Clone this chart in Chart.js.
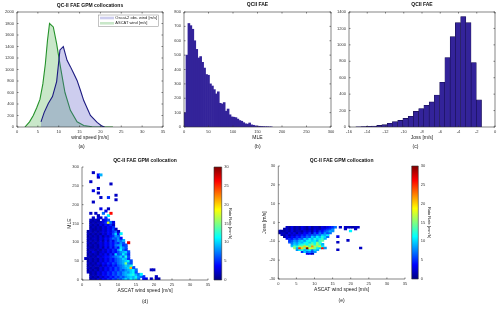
<!DOCTYPE html>
<html><head><meta charset="utf-8">
<script src="https://cdn.jsdelivr.net/npm/chart.js@4/dist/chart.umd.min.js"></script>
<style>
html,body{margin:0;padding:0;background:#fff;}
#wrap{position:relative;width:500px;height:309px;overflow:hidden;background:#fff;}
canvas{position:absolute;}
</style></head><body><div id="wrap"></div>
<script>
// ---------------- data ----------------
// (a) wind speed histograms (counts per bin, drawn as area lines)
const windAscatX = [1.9, 3, 3.9, 4.7, 5.5, 6.2, 6.8, 7.3, 7.8, 8.7, 9.5, 10.4, 11.5, 12.8, 14.4, 16, 18, 20, 23];
const windAscatCount = [0, 90, 200, 330, 480, 750, 1100, 1500, 1800, 1740, 1450, 1050, 600, 290, 90, 25, 5, 0, 0];
const windOscatX = [5.75, 6.5, 7.5, 8.5, 9.5, 10.3, 11.1, 12, 12.8, 13.6, 14.4, 15.2, 16, 16.8, 17.6, 18.4, 19.2, 20.4, 21];
const windOscatCount = [90, 250, 410, 530, 790, 1340, 1400, 1160, 1050, 930, 810, 640, 460, 330, 200, 140, 80, 15, 0];

// (b) MLE histogram
const mleBinCenters = [2,6,10,14,18,22,26,30,34,38,42,46,50,54,58,62,66,70,74,78,82,86,90,94,98,102,106,110,114,118,122,126,130,134,138,142,146,150,154,158,162,166,170,174,178];
const mleCounts = [100,500,720,705,680,600,540,480,490,450,410,365,360,300,285,260,230,245,165,160,170,110,125,85,70,68,65,55,45,40,30,22,20,28,15,12,8,6,5,4,3,2,2,1,1];

// (c) Joss histogram
const jossBinCenters = [-14.98,-14.41,-13.83,-13.26,-12.68,-12.11,-11.53,-10.96,-10.38,-9.81,-9.23,-8.66,-8.08,-7.51,-6.93,-6.36,-5.78,-5.21,-4.63,-4.06,-3.48,-2.91,-2.33,-1.76];
const jossCounts = [2,4,8,12,20,28,45,65,80,105,130,190,225,265,305,390,545,845,1100,1270,1345,1270,785,330];

// (d),(e) binned rain rate [mm/h]; one character per wind-speed bin, base-36 digit = rain rate, '.' = no data
const heatWindStep = 0.7;
const mleHeatTop = 288, mleHeatStep = 6;   // rows listed from top (282-288) down to (0-6)
const mleHeatRows = [
"....2",
"......49",
"......2",
"",
"...2",
"...........2",
"",
"......2",
"....3",
"......2",
".............2",
".......2..5",
".............2",
"....2",
"",
"",
".......3..2",
".........3",
"...2.2..7..q",
"......2...b",
"....2.32.5",
"...2121.346",
"...1212235i73",
"...2121324352",
"...1212132435",
"...21121324362",
"..1212123243572",
"..21212132436a4b",
"..1212131324587",
"..21221324357684",
"..121213142536879",
"..212123243546586.r",
"..1212132435478956",
"..2112131425364a86",
"..1221213243548b75",
"..213212324354689a6",
"..12121324253a67b85",
"..2121323445678a7c6",
".212121324354678a95",
"..121213243546789ab6",
"..212132435465789f86",
"..121221324354678a9c",
"..2121132435465789al6",
"..12121324354657689ab7.....22",
"..21213243546576898ab6",
"...121324354657689abc97b",
"...2121324354657689a9b875....2",
"...12132435465768a8b9c7.43.2.21"
];
const jossHeatTop = -2, jossHeatStep = 1;  // rows listed from top (-3..-2) down
const jossHeatRows = [
"...21312132131221323457.2.222122",
"..12131213212132234568....2...2",
"2112131221323142546798......b",
"122132313243526475867",
".2131324354657687a9b",
"..13243546576a8b9ca7...3",
"...3546576a8b9cabd9",
"....56879a8bcab9de.........2",
"....6798a9bcadbfc......2",
".....8a9bcdbefcgd9",
".....aecgfkhdmgfib",
"......g9pkeuihfbaq8.............2",
".......8bc9ab7a9.......2",
".........5a7868",
"...........342"
];
const rainMax = 30;

// ---------------- helpers ----------------
Chart.defaults.font.family = '"Liberation Sans", Arial, sans-serif';
Chart.defaults.color = '#333';
const wrap = document.getElementById('wrap');
const FONT_TICK = 4, FONT_LABEL = 5, FONT_TITLE = 5, LH = 1.2;

function jet(t){
  t = Math.max(0, Math.min(1, t));
  const f = v => Math.round(255 * Math.max(0, Math.min(1, v)));
  return `rgb(${f(1.5-Math.abs(4*t-3))},${f(1.5-Math.abs(4*t-2))},${f(1.5-Math.abs(4*t-1))})`;
}
function addCanvas(cv){
  const c = document.createElement('canvas');
  c.width = cv.w; c.height = cv.h;
  c.style.left = cv.x + 'px'; c.style.top = cv.y + 'px';
  c.style.width = cv.w + 'px'; c.style.height = cv.h + 'px';
  wrap.appendChild(c); return c;
}
const axisBox = {
  id: 'axisBox',
  afterDatasetsDraw(chart, args, o){
    const {ctx, chartArea: a} = chart; const L = 1.5;
    ctx.save(); ctx.strokeStyle = '#333'; ctx.lineWidth = 0.6; ctx.beginPath();
    if (o.full) ctx.rect(a.left, a.top, a.right - a.left, a.bottom - a.top);
    else { ctx.moveTo(a.left, a.top); ctx.lineTo(a.left, a.bottom); ctx.lineTo(a.right, a.bottom); }
    if (o.ticks) {
      const xs = chart.scales.x, ys = chart.scales.y;
      xs.ticks.forEach((t, i) => { const p = xs.getPixelForTick(i);
        ctx.moveTo(p, a.bottom); ctx.lineTo(p, a.bottom - L);
        if (o.full) { ctx.moveTo(p, a.top); ctx.lineTo(p, a.top + L); } });
      ys.ticks.forEach((t, i) => { const p = ys.getPixelForTick(i);
        ctx.moveTo(a.left, p); ctx.lineTo(a.left + L, p);
        if (o.full) { ctx.moveTo(a.right, p); ctx.lineTo(a.right - L, p); } });
    }
    ctx.stroke(); ctx.restore();
  }
};
const legendA = {
  id: 'legendA',
  afterDatasetsDraw(chart){
    const {ctx, chartArea: a} = chart;
    const x0 = a.right - 64.7, y0 = a.top + 3, w = 60, h = 11.7;
    ctx.save();
    ctx.fillStyle = '#fff'; ctx.fillRect(x0, y0, w, h);
    ctx.strokeStyle = '#888'; ctx.lineWidth = 0.5; ctx.strokeRect(x0, y0, w, h);
    chart.data.datasets.forEach((ds, i) => {
      const py = y0 + 1.7 + i * 5.3;
      ctx.fillStyle = ds.backgroundColor; ctx.fillRect(x0 + 1.7, py, 14, 2.6);
      ctx.fillStyle = '#222'; ctx.font = '4px "Liberation Sans", Arial, sans-serif';
      ctx.textBaseline = 'middle'; ctx.textAlign = 'left';
      ctx.fillText(ds.label, x0 + 17, py + 1.3);
    });
    ctx.restore();
  }
};
const numFmt = v => String(v);
function xAxis(min, max, step, title, H){
  return { type: 'linear', min, max, offset: false,
    grid: {display: false, drawTicks: false}, border: {display: false},
    ticks: {stepSize: step, autoSkip: false, maxRotation: 0, minRotation: 0, padding: 2, font: {size: FONT_TICK}, color: '#333', callback: numFmt},
    title: title ? {display: true, text: title, font: {size: FONT_LABEL}, padding: {top: 0, bottom: 1.1}, color: '#222'} : {display: false},
    afterFit: s => { s.height = H; } };
}
function yAxis(min, max, step, W, title, tpad){
  return { type: 'linear', position: 'left', min, max,
    grid: {display: false, drawTicks: false}, border: {display: false},
    ticks: {stepSize: step, autoSkip: false, padding: 3, font: {size: FONT_TICK}, color: '#333', callback: numFmt},
    title: title ? {display: true, text: title, font: {size: FONT_LABEL}, padding: {top: tpad, bottom: 0}, color: '#222'} : {display: false},
    afterFit: s => { s.width = W; } };
}
function titleOpt(text, padBottom){
  return {display: true, text, font: {size: FONT_TITLE, weight: 'bold'}, color: '#111', padding: {top: 1, bottom: padBottom}, fullSize: false};
}
function subOpt(text, padTop, full){
  return {display: true, text, position: 'bottom', font: {size: FONT_LABEL}, color: '#222', padding: {top: padTop, bottom: 0}, fullSize: full};
}
function layoutFor(cv, area, Wy, H, tPadB, sPadT, rightW){
  const titleH = tPadB == null ? 0 : FONT_TITLE * LH + 1 + tPadB;
  const subH = sPadT == null ? 0 : FONT_LABEL * LH + sPadT;
  return {padding: {
    left: area.l - cv.x - Wy,
    top: area.t - cv.y - titleH,
    right: cv.x + cv.w - area.r - (rightW || 0),
    bottom: cv.y + cv.h - area.b - H - subH }};
}
const common = {responsive: false, animation: false, devicePixelRatio: 1, events: []};
function basePlugins(extra){
  return Object.assign({legend: {display: false}, tooltip: {enabled: false}}, extra);
}

// ---------------- (a) ----------------
(function(){
  const cv = {x: 0, y: 0, w: 170, h: 155}, area = {l: 17, t: 12, r: 163, b: 127};
  const Wy = area.l - cv.x, H = 15;
  new Chart(addCanvas(cv), {
    type: 'line',
    data: {datasets: [
      {label: 'Oscat-2 obs. wind [m/s]', data: windOscatX.map((x, i) => ({x, y: windOscatCount[i]})),
       borderColor: '#1c1a80', backgroundColor: 'rgba(90,90,200,0.3)', fill: 'origin', borderWidth: 1.1, pointRadius: 0, tension: 0},
      {label: 'ASCAT wind [m/s]', data: windAscatX.map((x, i) => ({x, y: windAscatCount[i]})),
       borderColor: '#24922a', backgroundColor: 'rgba(60,170,60,0.28)', fill: 'origin', borderWidth: 1.1, pointRadius: 0, tension: 0}
    ]},
    options: Object.assign({}, common, {
      layout: layoutFor(cv, area, Wy, H, 3, 1.7),
      scales: {x: xAxis(0, 35, 5, 'wind speed [m/s]', H), y: yAxis(0, 2000, 200, Wy)},
      plugins: basePlugins({title: titleOpt('QC-II FAE GPM collocations', 3), subtitle: subOpt('(a)', 1.7, true), axisBox: {full: true, ticks: true}})
    }),
    plugins: [axisBox, legendA]
  });
})();

// ---------------- (b) ----------------
(function(){
  const cv = {x: 168, y: 0, w: 170, h: 155}, area = {l: 184, t: 12, r: 331, b: 127};
  const Wy = area.l - cv.x, H = 15;
  new Chart(addCanvas(cv), {
    type: 'bar',
    data: {datasets: [{data: mleBinCenters.map((x, i) => ({x, y: mleCounts[i]})),
      backgroundColor: '#33239a', borderWidth: 0, barPercentage: 1, categoryPercentage: 1}]},
    options: Object.assign({}, common, {
      layout: layoutFor(cv, area, Wy, H, 4, 1.7),
      scales: {x: xAxis(0, 300, 50, 'MLE', H), y: yAxis(0, 800, 100, Wy)},
      plugins: basePlugins({title: titleOpt('QCII FAE', 4), subtitle: subOpt('(b)', 1.7, false), axisBox: {full: true, ticks: true}})
    }),
    plugins: [axisBox]
  });
})();

// ---------------- (c) ----------------
(function(){
  const cv = {x: 336, y: 0, w: 164, h: 155}, area = {l: 349, t: 12, r: 495, b: 127};
  const Wy = area.l - cv.x, H = 15;
  new Chart(addCanvas(cv), {
    type: 'bar',
    data: {datasets: [{data: jossBinCenters.map((x, i) => ({x, y: jossCounts[i]})),
      backgroundColor: '#33239a', borderColor: '#150d4e', borderWidth: 0.6, barPercentage: 1, categoryPercentage: 1}]},
    options: Object.assign({}, common, {
      layout: layoutFor(cv, area, Wy, H, 4, 1.7),
      scales: {x: xAxis(-16, 0, 2, 'Joss [m/s]', H), y: yAxis(0, 1400, 200, Wy)},
      plugins: basePlugins({title: titleOpt('QCII FAE', 4), subtitle: subOpt('(c)', 1.7, true), axisBox: {full: true, ticks: true}})
    }),
    plugins: [axisBox]
  });
})();

// ---------------- heatmaps ----------------
function heatDatasets(rows, topEdge, yStep){
  return rows.map((row, k) => {
    const yTop = topEdge - k * yStep, yBot = yTop - yStep;
    const data = [], colors = [];
    for (let i = 0; i < row.length; i++) {
      const c = row[i];
      if (c === '.' || c === ' ') continue;
      data.push({x: (i + 0.5) * heatWindStep, y: [yBot, yTop]});
      colors.push(jet(parseInt(c, 36) / rainMax));
    }
    return {data, backgroundColor: colors, borderWidth: 0, barPercentage: 1, categoryPercentage: 1, grouped: false};
  });
}
function heatChart(cv, area, yMin, yMax, yStep, yTitle, tpad, rows, top, step, titlePadB, subLabel){
  const Wy = area.l - cv.x, H = 15;
  new Chart(addCanvas(cv), {
    type: 'bar',
    data: {datasets: heatDatasets(rows, top, step)},
    options: Object.assign({}, common, {
      layout: layoutFor(cv, area, Wy, H, titlePadB, 4),
      scales: {x: xAxis(0, 35, 5, 'ASCAT wind speed [m/s]', H), y: yAxis(yMin, yMax, yStep, Wy, yTitle, tpad)},
      plugins: basePlugins({title: titleOpt('QC-II FAE GPM collocation', titlePadB), subtitle: subOpt(subLabel, 4, false), axisBox: {full: false, ticks: true}})
    }),
    plugins: [axisBox]
  });
}
function colorbar(cv, area, rightW){
  new Chart(addCanvas(cv), {
    type: 'bar',
    data: {labels: ['rain'], datasets: [{data: [[0, rainMax]], borderWidth: 0, barPercentage: 1, categoryPercentage: 1,
      backgroundColor: (ctx) => {
        const a = ctx.chart.chartArea; if (!a) return 'blue';
        const g = ctx.chart.ctx.createLinearGradient(0, a.bottom, 0, a.top);
        [0, 0.125, 0.375, 0.625, 0.875, 1].forEach(t => g.addColorStop(t, jet(t)));
        return g;
      }}]},
    options: Object.assign({}, common, {
      layout: {padding: {left: area.l - cv.x, top: area.t - cv.y, right: cv.x + cv.w - area.r - rightW, bottom: cv.y + cv.h - area.b}},
      scales: {
        x: {display: false},
        y: {position: 'right', min: 0, max: rainMax, grid: {display: false, drawTicks: false}, border: {display: false},
            ticks: {stepSize: 5, autoSkip: false, padding: 2.5, font: {size: FONT_TICK}, color: '#333', callback: numFmt},
            title: {display: true, text: 'Rain Rate [mm/h]', font: {size: 4}, padding: {top: 0.8, bottom: 0}, color: '#222'},
            afterFit: s => { s.width = rightW; }}
      },
      plugins: basePlugins({axisBox: {full: true, ticks: false}})
    }),
    plugins: [axisBox]
  });
}

// (d)
heatChart({x: 64, y: 150, w: 149, h: 159}, {l: 82, t: 167, r: 208, b: 280}, 0, 300, 50, 'MLE', 3,
  mleHeatRows, mleHeatTop, mleHeatStep, 3.3, '(d)');
colorbar({x: 210, y: 150, w: 40, h: 159}, {l: 214, t: 167, r: 221.7, b: 280}, 12);
// (e)
heatChart({x: 258, y: 150, w: 152, h: 159}, {l: 278.3, t: 166, r: 405, b: 279}, -30, 30, 10, 'Joss [m/s]', 3.3,
  jossHeatRows, jossHeatTop, jossHeatStep, 2, '(e)');
colorbar({x: 408, y: 150, w: 40, h: 159}, {l: 411.7, t: 166, r: 418.3, b: 279}, 14.2);
</script>
</body></html>
